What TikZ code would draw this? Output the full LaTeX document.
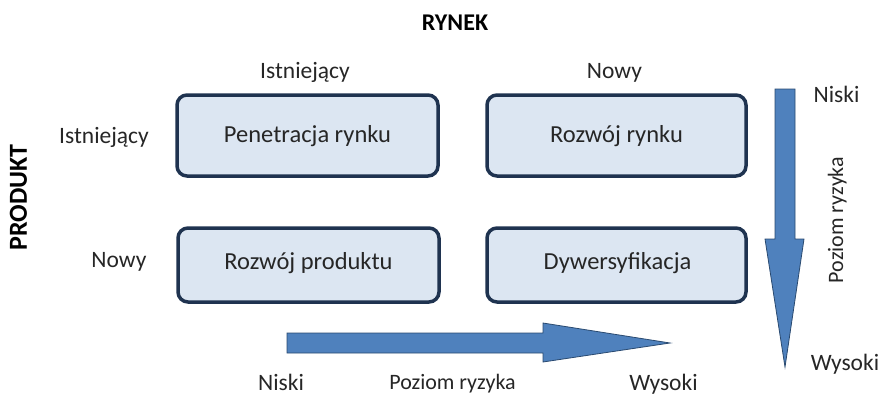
\documentclass[tikz,border=0pt]{standalone}
\usepackage{fontspec}
\setmainfont{Carlito}
\definecolor{boxedge}{HTML}{1F3350}
\definecolor{boxfill}{HTML}{DCE6F2}
\definecolor{arrowfill}{HTML}{4F81BD}
\definecolor{arrowedge}{HTML}{2A4A70}
\definecolor{txt}{HTML}{262626}
\tikzset{
  quad/.style={draw=boxedge, line width=3.5pt, fill=boxfill, rounded corners=10pt},
  lbl/.style={font=\fontsize{23.5}{26}\selectfont, text=txt, inner sep=0pt, anchor=base},
  boxtxt/.style={font=\fontsize{24.5}{27}\selectfont, text=txt, inner sep=0pt, anchor=base},
  small/.style={font=\fontsize{22}{24}\selectfont, text=txt, inner sep=0pt, anchor=base},
  bigarrow/.style={fill=arrowfill, draw=arrowedge, line width=0.8pt}
}
\begin{document}
\begin{tikzpicture}[x=1pt,y=-1pt]
\useasboundingbox (0,0) rectangle (883,396);
% quadrant boxes
\draw[quad] (177,95) rectangle (438,176);
\draw[quad] (487,95) rectangle (746,176);
\draw[quad] (178,228) rectangle (439,302);
\draw[quad] (487,228) rectangle (746,302);
\node[boxtxt] (pr) at (307.5,142) {Penetracja rynku};
\node[boxtxt] (rr) at (616.5,142) {Rozwój rynku};
\node[boxtxt] (rp) at (308.5,269) {Rozwój produktu};
\node[boxtxt] (dy) at (617.5,269) {Dywersyfikacja};
% headers
\node[font=\fontsize{24}{26}\selectfont\bfseries, inner sep=0pt, anchor=base] (rynek) at (455,31) {RYNEK};
\node[font=\fontsize{26}{28}\selectfont\bfseries, inner sep=0pt, anchor=base, rotate=90] (produkt) at (27,197.5) {PRODUKT};
\node[lbl] (ci) at (305,78) {Istniejący};
\node[lbl] (cn) at (614.5,78) {Nowy};
\node[lbl] (ri) at (104,143) {Istniejący};
\node[lbl] (rn) at (119,267) {Nowy};
% horizontal arrow
\draw[bigarrow] (287,333) -- (543,333) -- (543,323) -- (670,343) -- (543,362) -- (543,353) -- (287,353) -- cycle;
\node[lbl] (hn) at (281,390) {Niski};
\node[small] (hp) at (452.5,389) {Poziom ryzyka};
\node[lbl] (hw) at (663.5,390) {Wysoki};
% vertical arrow
\draw[bigarrow] (775,89) -- (795,89) -- (795,239) -- (804,239) -- (785,367) -- (765,239) -- (775,239) -- cycle;
\node[lbl] (vn) at (836.5,102) {Niski};
\node[small, rotate=90] (vp) at (843,220) {Poziom ryzyka};
\node[lbl] (vw) at (845,370) {Wysoki};
\end{tikzpicture}
\end{document}
